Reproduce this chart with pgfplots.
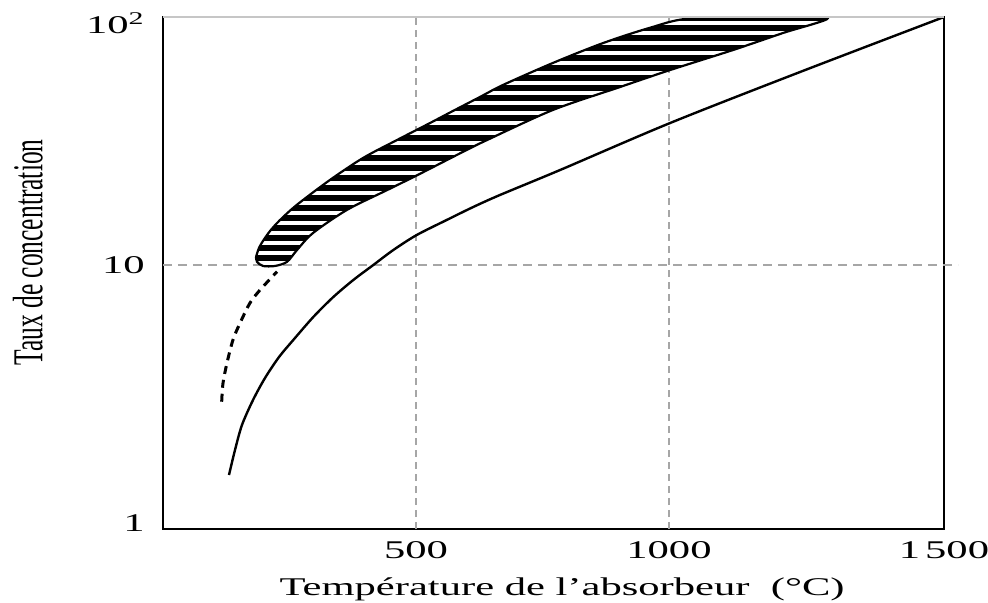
\documentclass[border=0pt]{standalone}
\usepackage{pgfplots}
\pgfplotsset{compat=1.18}
\usepackage{pgfplotstable}
\usepackage{graphicx}
\usepackage{fontspec}
\setmainfont{Liberation Serif}[FakeStretch=1.67]
\newfontfamily\plainserif{Liberation Serif}
\usetikzlibrary{patterns.meta}

\pgfplotstableread{
x y
183.8 10.77
189.7 11.72
197.6 12.50
211.5 13.71
231.2 15.18
264.8 17.50
330.0 22.03
395.3 27.01
462.5 31.92
527.7 37.37
573.1 41.8
626.5 47.6
671.9 53.2
770.8 65.3
869.6 78.5
962.5 90.5
1040.0 98.6
1200.0 99.4
1314.0 99.0
1225.3 86.2
1126.5 73.6
1002.0 61.1
903.2 52.2
770.8 42.2
640.3 31.9
592.9 28.6
503.9 23.1
442.7 20.04
363.6 16.68
296.5 13.46
264.8 11.49
245.1 10.3
221.3 9.91
197.6 9.91
185.8 10.3
183.8 10.77
}\hatchdata

\pgfplotstableread{
x y
130.4 1.423
142.3 1.795
156.1 2.264
177.9 2.855
201.6 3.503
229.3 4.256
257.5 4.985
297.0 6.17
336.6 7.43
376.1 8.70
415.6 10.0
455.1 11.49
501.4 13.21
560.7 15.19
613.2 17.14
666.0 19.16
784.6 24.15
1002.0 37.36
1258.9 60.0
1543.5 100
}\solidcurve

\pgfplotstableread{
x y
116.0 2.81
118.6 3.34
126.5 4.03
138.3 4.99
152.2 5.83
171.9 7.03
191.7 7.93
225.3 9.40
}\dashedcurve

\begin{document}
\begin{tikzpicture}
\begin{axis}[
  name=ax,
  scale only axis,
  width=390.5bp, height=256bp,
  xmin=0, xmax=1543.5,
  ymode=log, ymin=0.862, ymax=100,
  xtick={500,1000,1543.5},
  xticklabels={500,1000,1\hspace{2.5bp}500},
  ytick={1,10,100},
  yticklabels={\raisebox{-9.25bp}[0pt][0pt]{1},10\hspace{13.5bp},\raisebox{-8.25bp}[0pt][0pt]{10\textsuperscript{2}}\hspace{-2.5bp}},
  minor ytick={},
  tick style={draw=none},
  major tick length=0pt,
  minor tick length=0pt,
  /pgf/number format/assume math mode=true,
  tick label style={font=\fontsize{12.75bp}{15bp}\selectfont, black},
  xticklabel style={anchor=base, yshift=-14.5bp},
  yticklabel style={anchor=east, inner sep=0pt, xshift=-9bp},
  axis line style={black, line width=1bp},
  clip mode=individual,
  xlabel={Température de l’absorbeur~ (°C)},
  xlabel style={at={(axis description cs:0.511,-0.129)}, anchor=base, font=\fontsize{12.75bp}{15bp}\selectfont},
  ylabel={\scalebox{1}[1.67]{\plainserif Taux de concentration}},
  ylabel style={at={(axis description cs:-0.173,0.54)}, anchor=center, font=\fontsize{12.75bp}{15bp}\selectfont},
]
% grid lines
\draw[gray!70, line width=0.8bp, dash pattern=on 3.5bp off 2.5bp] (axis cs:500,0.862) -- (axis cs:500,100);
\draw[gray!70, line width=0.8bp, dash pattern=on 3.5bp off 2.5bp] (axis cs:1000,0.862) -- (axis cs:1000,100);
\draw[gray!70, line width=0.8bp, dash pattern=on 4.5bp off 3bp] (axis cs:0,10) -- ([xshift=7bp]axis cs:1543.5,10);

% hatched region
\addplot[draw=none, fill=black, smooth] table {\hatchdata};
\addplot[draw=none, smooth, pattern={Lines[angle=0,distance=5bp,line width=2bp]}, pattern color=white] table {\hatchdata};
\addplot[black, line width=1.1bp, smooth] table {\hatchdata};

% dashed extension
\addplot[black, line width=1.5bp, smooth, dash pattern=on 4bp off 3bp] table {\dashedcurve};

% solid curve
\addplot[black, line width=1.2bp, smooth] table {\solidcurve};

% light top border
\draw[gray!45, line width=1.2bp] (rel axis cs:0,1) -- (rel axis cs:1,1);
\end{axis}
\pgfresetboundingbox
\path ([shift={(-81.5bp,-37bp)}]ax.south west) rectangle ([shift={(22bp,8.5bp)}]ax.north east);
\end{tikzpicture}
\end{document}
